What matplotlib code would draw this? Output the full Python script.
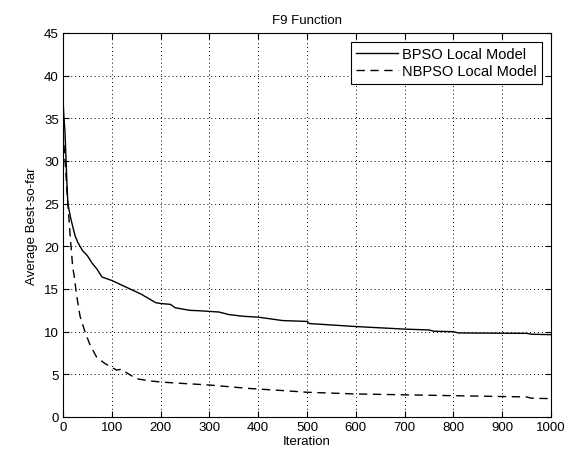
import matplotlib
matplotlib.use("Agg")
import matplotlib.pyplot as plt

# values
bpso_iter = [0, 2, 4, 6, 8, 10, 15, 20, 25, 30, 40, 50, 60, 70, 80, 100, 115,
             130, 145, 160, 175, 190, 200, 220, 230, 240, 260, 280, 320, 340,
             370, 400, 450, 500, 505, 600, 700, 750, 760, 800, 810, 950, 960, 1000]
bpso_val = [37.2, 35.0, 33.5, 30.5, 27.5, 25.0, 23.5, 22.3, 21.2, 20.5, 19.5,
            18.9, 18.0, 17.3, 16.4, 16.0, 15.6, 15.2, 14.8, 14.4, 13.9, 13.4,
            13.3, 13.2, 12.8, 12.7, 12.5, 12.45, 12.3, 12.0, 11.8, 11.7, 11.3,
            11.2, 10.95, 10.6, 10.3, 10.2, 10.05, 10.0, 9.85, 9.8, 9.7, 9.65]

nbpso_iter = [0, 3, 6, 8, 11, 15, 20, 23, 28, 35, 45, 55, 69, 85, 100, 110,
              120, 130, 150, 175, 200, 240, 300, 380, 450, 500, 600, 700, 800,
              900, 950, 960, 1000]
nbpso_val = [33.5, 31.0, 28.5, 26.5, 24.2, 21.0, 17.5, 16.5, 14.2, 11.8, 10.0,
             8.5, 7.0, 6.3, 5.8, 5.5, 5.6, 5.2, 4.5, 4.25, 4.1, 3.95, 3.75,
             3.35, 3.1, 2.9, 2.7, 2.6, 2.5, 2.4, 2.35, 2.2, 2.15]

series_labels = ["BPSO Local Model", "NBPSO Local Model"]

plt.rcParams["font.family"] = ["Liberation Sans", "DejaVu Sans"]
plt.rcParams["font.size"] = 9.5

fig = plt.figure(figsize=(5.68, 4.56), dpi=100)
ax = fig.add_axes([63 / 568, 38 / 456, 488 / 568, 384 / 456])

ax.plot(bpso_iter, bpso_val, color="black", linewidth=1.0, label=series_labels[0])
ax.plot(nbpso_iter, nbpso_val, color="black", linewidth=1.0,
        linestyle=(0, (6, 4)), label=series_labels[1])

ax.set_xlim(0, 1000)
ax.set_ylim(0, 45)
ax.set_xticks(range(0, 1001, 100))
ax.set_yticks(range(0, 46, 5))

ax.grid(True, color="black", linestyle=(0, (1, 3)), linewidth=0.7)
ax.tick_params(direction="in", top=True, right=True, length=4, pad=3)
for spine in ax.spines.values():
    spine.set_linewidth(0.8)

ax.set_title("F9 Function", fontsize=9.5, pad=7)
ax.set_xlabel("Iteration", labelpad=1)
ax.set_ylabel("Average Best-so-far", labelpad=4)

leg = ax.legend(loc="upper right", fancybox=False, edgecolor="black",
                framealpha=1, fontsize=10.5, handlelength=2.9, handletextpad=0.3,
                borderpad=0.35, labelspacing=0.25, borderaxespad=0.6)
leg.get_frame().set_linewidth(0.8)

fig.savefig("out.png", dpi=100)
